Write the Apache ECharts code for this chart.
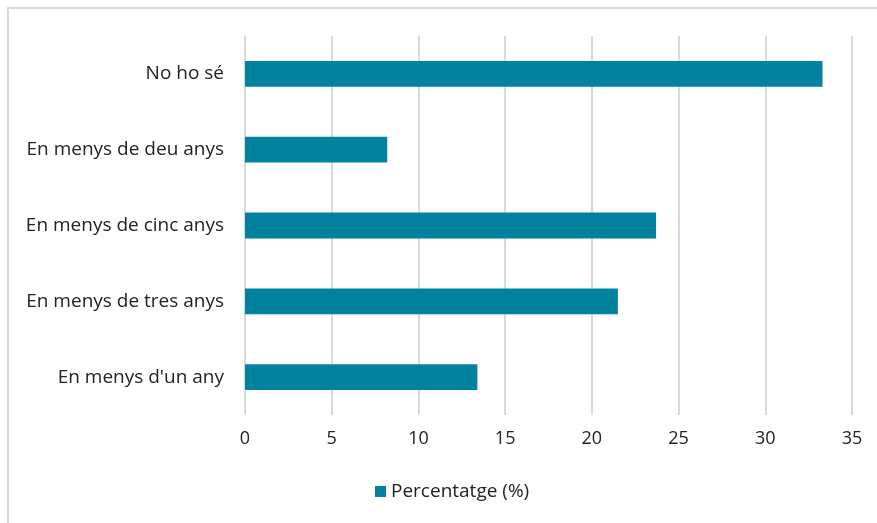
<!DOCTYPE html>
<html>
<head>
<meta charset="utf-8">
<script src="https://cdn.jsdelivr.net/npm/echarts@6/dist/echarts.min.js"></script>
<style>
  html, body { margin: 0; padding: 0; background: #fff; }
  #chart { width: 877px; height: 523px; }
</style>
</head>
<body>
<div id="chart"></div>
<script>
// categories bottom -> top (category axis on y starts at the bottom)
const categories = [
  "En menys d'un any",
  "En menys de tres anys",
  "En menys de cinc anys",
  "En menys de deu anys",
  "No ho sé"
];
const percentatge = [13.4, 21.5, 23.7, 8.2, 33.3];
const xTicks = { min: 0, max: 35, interval: 5 };

const chart = echarts.init(document.getElementById("chart"));
const font = "'Open Sans', 'Noto Sans', sans-serif";

const option = {
  animation: false,
  textStyle: { fontFamily: font },
  graphic: [{
    type: "rect",
    shape: { x: 8, y: 8, width: 900, height: 560 },
    style: { fill: "none", stroke: "#d9d9d9", lineWidth: 2 },
    silent: true
  }],
  grid: { left: 245, right: 25, top: 36, bottom: 108 },
  legend: {
    bottom: 17,
    left: 370,
    itemWidth: 11,
    itemHeight: 11,
    itemGap: 7,
    icon: "rect",
    textStyle: { fontFamily: font, fontSize: 19, color: "#222" },
    data: ["Percentatge (%)"]
  },
  xAxis: {
    type: "value",
    min: xTicks.min,
    max: xTicks.max,
    interval: xTicks.interval,
    axisLine: { show: false },
    axisTick: { show: false },
    axisLabel: { fontSize: 18, color: "#222", margin: 15 },
    splitLine: { show: true, lineStyle: { color: "#d9d9d9", width: 2 } }
  },
  yAxis: {
    type: "category",
    data: categories,
    axisLine: { show: false },
    axisTick: { show: false },
    axisLabel: { fontSize: 19, color: "#222", margin: 21 }
  },
  series: [{
    name: "Percentatge (%)",
    type: "bar",
    data: percentatge,
    barWidth: "34%",
    itemStyle: { color: "#02829f" }
  }]
};
chart.setOption(option);
</script>
</body>
</html>
